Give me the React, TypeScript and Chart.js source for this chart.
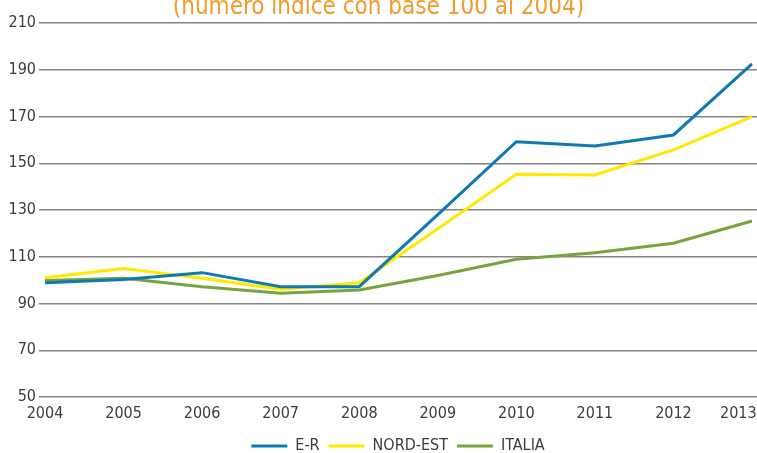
import React, { useEffect, useRef } from 'react';
import { Chart, registerables } from 'chart.js';

Chart.register(...registerables);

const years = [2004, 2005, 2006, 2007, 2008, 2009, 2010, 2011, 2012, 2013];
const erValues = [98.9, 100.3, 103.2, 97.2, 97.2, 128.0, 159.2, 157.4, 162.1, 192.5];
const nordEstValues = [101.0, 105.0, 100.8, 96.1, 98.9, 122.0, 145.3, 145.0, 155.7, 169.9];
const italiaValues = [99.8, 100.8, 97.2, 94.4, 95.8, 102.0, 108.9, 111.7, 115.8, 125.3];
const yTicks = [50, 70, 90, 110, 130, 150, 170, 190, 210];
const seriesNames = ['E-R', 'NORD-EST', 'ITALIA'];
const seriesColors = ['#0E7AB1', '#FFE900', '#76A43F'];
const titleText = '(numero indice con base 100 al 2004)';

const FONT = '"DejaVu Sans Condensed", "Liberation Sans Narrow", sans-serif';

export default function App() {
  const ref = useRef<HTMLCanvasElement | null>(null);

  useEffect(() => {
    if (!ref.current) return;
    const all = [erValues, nordEstValues, italiaValues];
    const chart = new Chart(ref.current, {
      type: 'line',
      data: {
        datasets: all.map((vals, i) => ({
          label: seriesNames[i],
          data: years.map((x, j) => ({ x, y: vals[j] })),
          borderColor: seriesColors[i],
          backgroundColor: seriesColors[i],
          borderWidth: 3,
          pointRadius: 0,
          tension: 0,
          fill: false,
        })),
      },
      options: {
        responsive: false,
        animation: false,
        layout: { padding: 0 },
        plugins: {
          tooltip: { enabled: false },
          title: {
            display: true,
            text: titleText,
            color: '#F29B2B',
            font: { family: FONT, size: 24, weight: 'normal' },
            padding: { top: 0, bottom: 1.2 },
          },
          legend: {
            position: 'bottom',
            fullSize: false,
            labels: {
              boxWidth: 36,
              boxHeight: 3,
              padding: 9,
              color: '#3c3c3c',
              font: { family: FONT, size: 16 },
              generateLabels: (c: any) =>
                Chart.defaults.plugins.legend.labels
                  .generateLabels(c)
                  .map((it: any) => ({ ...it, fillStyle: it.strokeStyle, lineWidth: 0 })),
            },
          },
        },
        scales: {
          x: {
            type: 'linear',
            min: 2003.9236,
            max: 2013.0636,
            grid: { display: false, drawTicks: false },
            border: { display: false },
            ticks: {
              autoSkip: false,
              maxRotation: 0,
              padding: 7,
              color: '#3c3c3c',
              font: { family: FONT, size: 16 },
              callback: (v: any) =>
                v === years[years.length - 1] ? String(v) + '\u00a0\u00a0\u00a0\u00a0\u00a0\u00a0' : String(v),
            },
            afterBuildTicks: (s: any) => {
              s.ticks = years.map((v) => ({ value: v }));
            },
            afterFit: (s: any) => {
              s.paddingLeft = 0;
              s.paddingRight = 0;
              s.height = 32;
            },
          },
          y: {
            min: 50,
            max: 210,
            grid: { color: '#858585', lineWidth: 1.4, drawTicks: false },
            border: { display: false },
            ticks: {
              padding: 3,
              color: '#3c3c3c',
              font: { family: FONT, size: 16 },
            },
            afterBuildTicks: (s: any) => {
              s.ticks = yTicks.map((v) => ({ value: v }));
            },
            afterFit: (s: any) => {
              s.width = 39;
            },
          },
        },
      },
    } as any);
    return () => chart.destroy();
  }, []);

  return (
    <div
      style={{
        position: 'fixed',
        left: 0,
        top: 0,
        width: 757,
        height: 453,
        overflow: 'hidden',
        background: '#fff',
      }}
    >
      <div style={{ position: 'absolute', left: 0, top: -7, width: 757, height: 471 }}>
        <canvas ref={ref} width={757} height={471} style={{ display: 'block' }} />
      </div>
    </div>
  );
}
